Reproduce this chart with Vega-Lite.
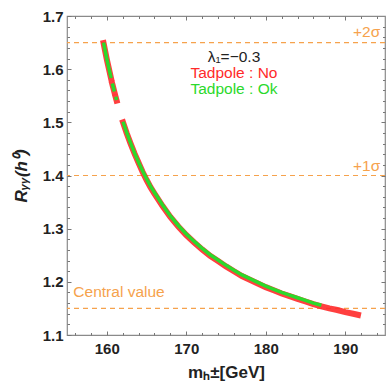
{
  "$schema": "https://vega.github.io/schema/vega-lite/v6.json",
  "width": 318,
  "height": 319,
  "autosize": "none",
  "padding": {"left": 67, "top": 16, "right": 2, "bottom": 52},
  "background": "white",
  "config": {
    "view": {"stroke": "#8a8a8a", "strokeWidth": 1.2},
    "font": "Liberation Sans",
    "axis": {"domain": false, "grid": false, "tickColor": "#777", "tickWidth": 1, "zindex": 1,
      "labelFont": "Liberation Sans", "labelFontSize": 15, "labelFontWeight": "bold", "labelColor": "#222",
      "titleFont": "Liberation Sans", "titleFontSize": 17, "titleFontWeight": "bold", "titleColor": "#222"}
  },
  "resolve": {"axis": {"x": "independent", "y": "independent"}},
  "datasets": {
    "curve": [
      {"m": 159.6, "R": 1.650, "series": "Ok", "seg": "A"},
      {"m": 160.0, "R": 1.620, "series": "Ok", "seg": "A"},
      {"m": 160.55, "R": 1.583, "series": "Ok", "seg": "A"},
      {"m": 160.7, "R": 1.573, "series": "Ok", "seg": "B"},
      {"m": 160.96, "R": 1.558, "series": "Ok", "seg": "B"},
      {"m": 161.13, "R": 1.548, "series": "Ok", "seg": "C"},
      {"m": 161.24, "R": 1.542, "series": "Ok", "seg": "C"},
      {"m": 162.05, "R": 1.501, "series": "Ok", "seg": "D"},
      {"m": 162.5, "R": 1.481, "series": "Ok", "seg": "D"},
      {"m": 163.0, "R": 1.461, "series": "Ok", "seg": "D"},
      {"m": 163.5, "R": 1.442, "series": "Ok", "seg": "D"},
      {"m": 164.0, "R": 1.425, "series": "Ok", "seg": "D"},
      {"m": 164.5, "R": 1.409, "series": "Ok", "seg": "D"},
      {"m": 165.0, "R": 1.394, "series": "Ok", "seg": "D"},
      {"m": 165.5, "R": 1.380, "series": "Ok", "seg": "D"},
      {"m": 166.0, "R": 1.368, "series": "Ok", "seg": "D"},
      {"m": 167.0, "R": 1.345, "series": "Ok", "seg": "D"},
      {"m": 168.0, "R": 1.324, "series": "Ok", "seg": "D"},
      {"m": 169.0, "R": 1.306, "series": "Ok", "seg": "D"},
      {"m": 170.0, "R": 1.290, "series": "Ok", "seg": "D"},
      {"m": 171.0, "R": 1.276, "series": "Ok", "seg": "D"},
      {"m": 172.0, "R": 1.263, "series": "Ok", "seg": "D"},
      {"m": 173.0, "R": 1.251, "series": "Ok", "seg": "D"},
      {"m": 174.0, "R": 1.241, "series": "Ok", "seg": "D"},
      {"m": 175.0, "R": 1.231, "series": "Ok", "seg": "D"},
      {"m": 176.0, "R": 1.222, "series": "Ok", "seg": "D"},
      {"m": 177.0, "R": 1.213, "series": "Ok", "seg": "D"},
      {"m": 178.0, "R": 1.206, "series": "Ok", "seg": "D"},
      {"m": 179.0, "R": 1.199, "series": "Ok", "seg": "D"},
      {"m": 180.0, "R": 1.192, "series": "Ok", "seg": "D"},
      {"m": 181.0, "R": 1.186, "series": "Ok", "seg": "D"},
      {"m": 182.0, "R": 1.180, "series": "Ok", "seg": "D"},
      {"m": 183.0, "R": 1.175, "series": "Ok", "seg": "D"},
      {"m": 184.0, "R": 1.170, "series": "Ok", "seg": "D"},
      {"m": 185.0, "R": 1.165, "series": "Ok", "seg": "D"},
      {"m": 186.0, "R": 1.160, "series": "Ok", "seg": "D"},
      {"m": 187.0, "R": 1.156, "series": "Ok", "seg": "D"},
      {"m": 159.6, "R": 1.649, "series": "No", "seg": "A"},
      {"m": 160.0, "R": 1.619, "series": "No", "seg": "A"},
      {"m": 160.55, "R": 1.582, "series": "No", "seg": "A"},
      {"m": 160.7, "R": 1.572, "series": "No", "seg": "B"},
      {"m": 160.96, "R": 1.557, "series": "No", "seg": "B"},
      {"m": 161.13, "R": 1.547, "series": "No", "seg": "C"},
      {"m": 161.24, "R": 1.541, "series": "No", "seg": "C"},
      {"m": 162.05, "R": 1.500, "series": "No", "seg": "D"},
      {"m": 162.5, "R": 1.480, "series": "No", "seg": "D"},
      {"m": 163.0, "R": 1.460, "series": "No", "seg": "D"},
      {"m": 163.5, "R": 1.441, "series": "No", "seg": "D"},
      {"m": 164.0, "R": 1.424, "series": "No", "seg": "D"},
      {"m": 164.5, "R": 1.407, "series": "No", "seg": "D"},
      {"m": 165.0, "R": 1.392, "series": "No", "seg": "D"},
      {"m": 165.5, "R": 1.378, "series": "No", "seg": "D"},
      {"m": 166.0, "R": 1.366, "series": "No", "seg": "D"},
      {"m": 167.0, "R": 1.343, "series": "No", "seg": "D"},
      {"m": 168.0, "R": 1.322, "series": "No", "seg": "D"},
      {"m": 169.0, "R": 1.304, "series": "No", "seg": "D"},
      {"m": 170.0, "R": 1.288, "series": "No", "seg": "D"},
      {"m": 171.0, "R": 1.274, "series": "No", "seg": "D"},
      {"m": 172.0, "R": 1.261, "series": "No", "seg": "D"},
      {"m": 173.0, "R": 1.249, "series": "No", "seg": "D"},
      {"m": 174.0, "R": 1.239, "series": "No", "seg": "D"},
      {"m": 175.0, "R": 1.229, "series": "No", "seg": "D"},
      {"m": 176.0, "R": 1.220, "series": "No", "seg": "D"},
      {"m": 177.0, "R": 1.211, "series": "No", "seg": "D"},
      {"m": 178.0, "R": 1.204, "series": "No", "seg": "D"},
      {"m": 179.0, "R": 1.197, "series": "No", "seg": "D"},
      {"m": 180.0, "R": 1.190, "series": "No", "seg": "D"},
      {"m": 181.0, "R": 1.184, "series": "No", "seg": "D"},
      {"m": 182.0, "R": 1.178, "series": "No", "seg": "D"},
      {"m": 183.0, "R": 1.173, "series": "No", "seg": "D"},
      {"m": 184.0, "R": 1.168, "series": "No", "seg": "D"},
      {"m": 185.0, "R": 1.163, "series": "No", "seg": "D"},
      {"m": 186.0, "R": 1.158, "series": "No", "seg": "D"},
      {"m": 187.0, "R": 1.154, "series": "No", "seg": "D"},
      {"m": 188.0, "R": 1.150, "series": "No", "seg": "D"},
      {"m": 189.0, "R": 1.147, "series": "No", "seg": "D"},
      {"m": 190.0, "R": 1.143, "series": "No", "seg": "D"},
      {"m": 191.0, "R": 1.140, "series": "No", "seg": "D"},
      {"m": 191.6, "R": 1.138, "series": "No", "seg": "D"}
    ],
    "refs": [
      {"R": 1.65, "name": "+2σ"},
      {"R": 1.40, "name": "+1σ"},
      {"R": 1.15, "name": "Central value"}
    ],
    "labels": [
      {"m": 176, "R": 1.623, "text": "λ₁=−0.3", "kind": "lam"},
      {"m": 176, "R": 1.593, "text": "Tadpole : No", "kind": "No"},
      {"m": 176, "R": 1.563, "text": "Tadpole : Ok", "kind": "Ok"}
    ],
    "sigmalabels": [
      {"m": 194.4, "R": 1.670, "text": "+2σ"},
      {"m": 194.4, "R": 1.417, "text": "+1σ"}
    ],
    "centrallabel": [
      {"m": 155.8, "R": 1.181, "text": "Central value"}
    ]
  },
  "layer": [
    {
      "data": {"name": "refs"},
      "mark": {"type": "rule", "color": "#f6a24c", "strokeDash": [5, 4], "strokeWidth": 1.2},
      "encoding": {
        "y": {"field": "R", "type": "quantitative", "scale": {"domain": [1.1, 1.7], "nice": false, "zero": false},
          "axis": {"orient": "left", "title": "Rᵧᵧ(h⁰)", "titleFontStyle": "italic", "titlePadding": 12,
            "values": [1.1, 1.2, 1.3, 1.4, 1.5, 1.6, 1.7], "format": ".1f",
            "offset": -4, "tickSize": 4, "labelPadding": 4}}
      }
    },
    {
      "data": {"name": "curve"},
      "transform": [{"filter": "datum.series === 'No'"}],
      "mark": {"type": "line", "color": "#ff2a2a", "strokeWidth": 6, "strokeCap": "square", "opacity": 0.9},
      "encoding": {
        "x": {"field": "m", "type": "quantitative", "scale": {"domain": [155, 195], "nice": false, "zero": false},
          "axis": {"orient": "bottom", "title": "mₕ±[GeV]", "titlePadding": 8,
            "values": [160, 170, 180, 190], "offset": -4, "tickSize": 4, "labelPadding": 6}},
        "y": {"field": "R", "type": "quantitative",
          "axis": {"orient": "left", "title": null, "labels": false,
            "values": [1.12,1.14,1.16,1.18,1.22,1.24,1.26,1.28,1.32,1.34,1.36,1.38,1.42,1.44,1.46,1.48,1.52,1.54,1.56,1.58,1.62,1.64,1.66,1.68],
            "offset": -2.5, "tickSize": 2.5}},
        "detail": {"field": "seg"},
        "order": {"field": "m", "type": "quantitative"}
      }
    },
    {
      "data": {"name": "curve"},
      "transform": [{"filter": "datum.series === 'Ok'"}],
      "mark": {"type": "line", "color": "#2bd92b", "strokeWidth": 3.5, "strokeCap": "butt"},
      "encoding": {
        "x": {"field": "m", "type": "quantitative",
          "axis": {"orient": "bottom", "title": null, "labels": false,
            "values": [156,158,162,164,166,168,172,174,176,178,182,184,186,188,192,194],
            "offset": -2.5, "tickSize": 2.5}},
        "y": {"field": "R", "type": "quantitative",
          "axis": {"orient": "right", "title": null, "labels": false,
            "values": [1.2, 1.3, 1.4, 1.5, 1.6],
            "offset": -4, "tickSize": 4}},
        "detail": {"field": "seg"},
        "order": {"field": "m", "type": "quantitative"}
      }
    },
    {
      "data": {"name": "labels"},
      "mark": {"type": "text", "fontSize": 15.5, "font": "Liberation Sans", "align": "center", "baseline": "middle"},
      "encoding": {
        "x": {"field": "m", "type": "quantitative",
          "axis": {"orient": "top", "title": null, "labels": false,
            "values": [160, 170, 180, 190], "offset": -4, "tickSize": 4}},
        "y": {"field": "R", "type": "quantitative",
          "axis": {"orient": "right", "title": null, "labels": false,
            "values": [1.12,1.14,1.16,1.18,1.22,1.24,1.26,1.28,1.32,1.34,1.36,1.38,1.42,1.44,1.46,1.48,1.52,1.54,1.56,1.58,1.62,1.64,1.66,1.68],
            "offset": -2.5, "tickSize": 2.5}},
        "text": {"field": "text"},
        "color": {"field": "kind", "type": "nominal", "scale": {"domain": ["lam", "No", "Ok"], "range": ["#222222", "#ff2a2a", "#2bd92b"]}, "legend": null}
      }
    },
    {
      "data": {"name": "sigmalabels"},
      "mark": {"type": "text", "fontSize": 15.5, "font": "Liberation Sans", "baseline": "middle", "align": "right", "color": "#f6a24c"},
      "encoding": {
        "x": {"field": "m", "type": "quantitative",
          "axis": {"orient": "top", "title": null, "labels": false,
            "values": [156,158,162,164,166,168,172,174,176,178,182,184,186,188,192,194],
            "offset": -2.5, "tickSize": 2.5}},
        "y": {"field": "R", "type": "quantitative", "axis": null},
        "text": {"field": "text"}
      }
    },
    {
      "data": {"name": "centrallabel"},
      "mark": {"type": "text", "fontSize": 15.5, "font": "Liberation Sans", "baseline": "middle", "align": "left", "color": "#f6a24c"},
      "encoding": {
        "x": {"field": "m", "type": "quantitative", "axis": null},
        "y": {"field": "R", "type": "quantitative", "axis": null},
        "text": {"field": "text"}
      }
    }
  ]
}
